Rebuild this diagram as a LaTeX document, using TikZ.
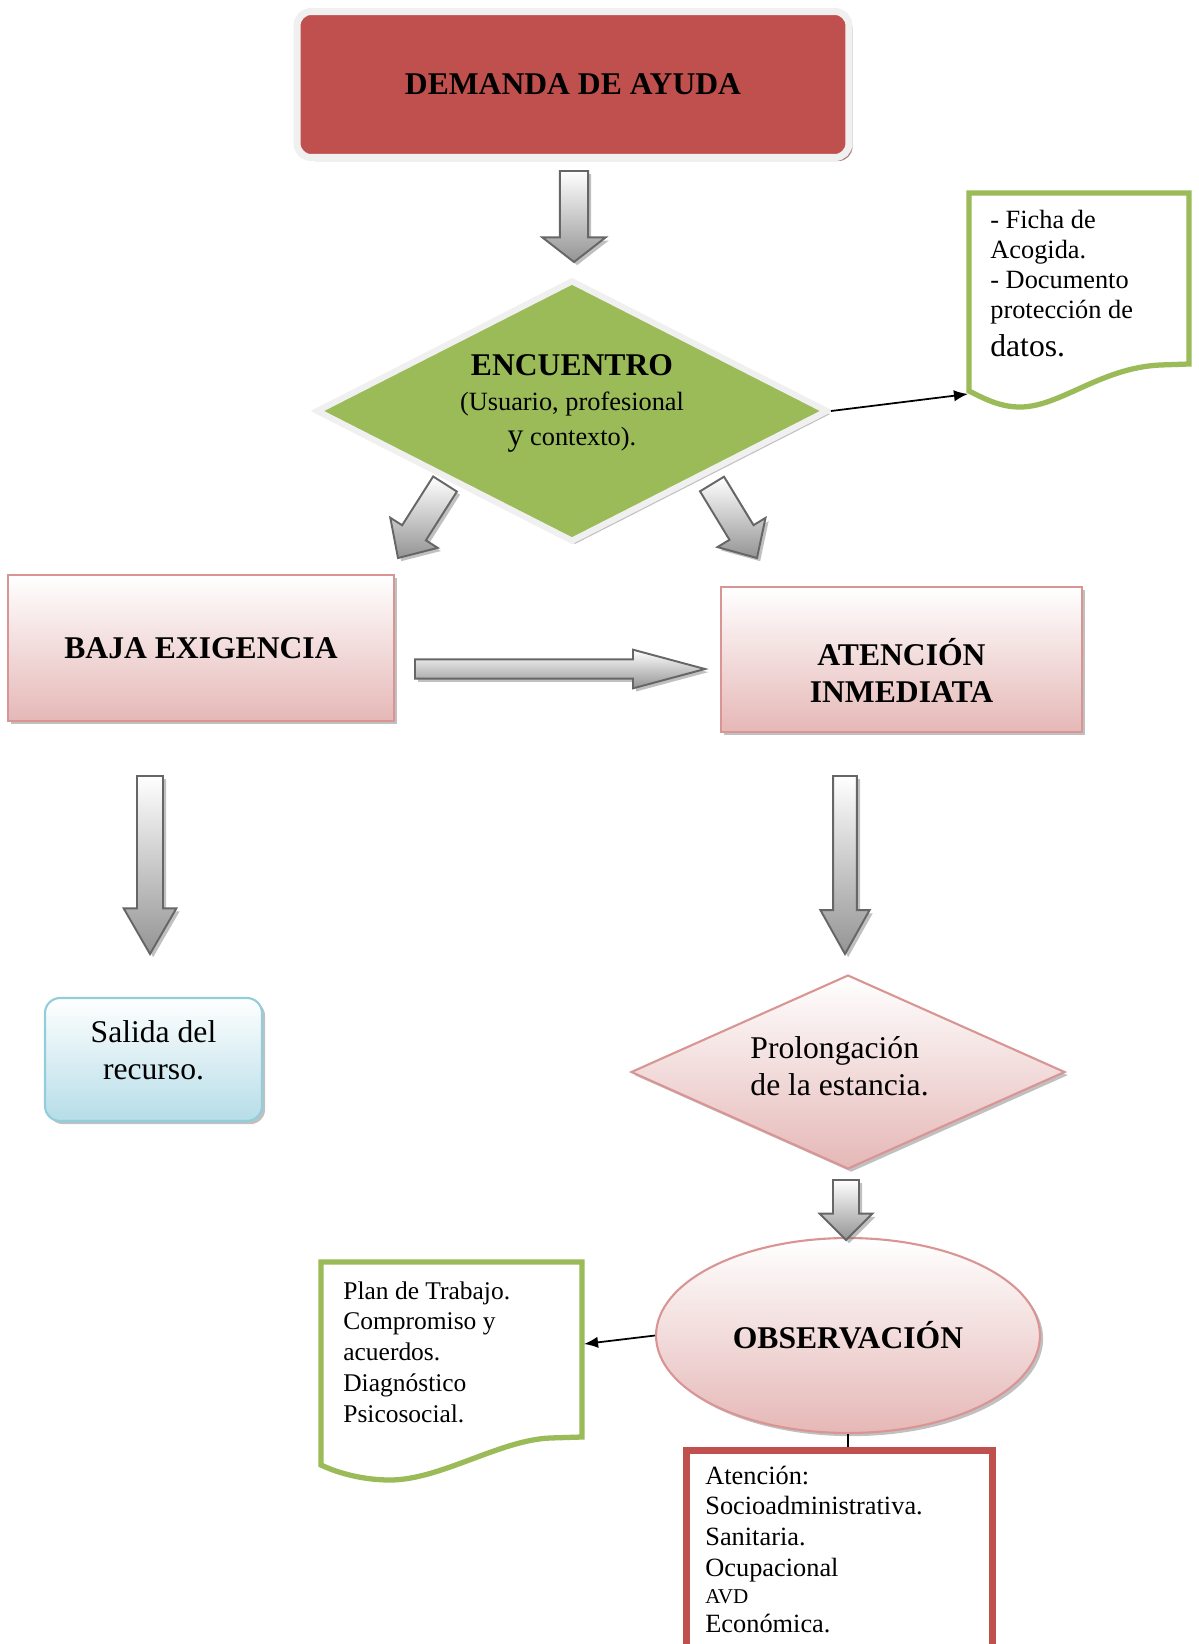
\documentclass[tikz,border=0pt]{standalone}
\usepackage{fontspec}
\setmainfont{Liberation Serif}
\usetikzlibrary{shapes.geometric,shadows,calc,positioning,arrows.meta}

\definecolor{rojo}{HTML}{C0504D}
\definecolor{verde}{HTML}{9BBB59}
\definecolor{rosa}{HTML}{E5B8B7}
\definecolor{rosaborde}{HTML}{D99594}
\definecolor{azul}{HTML}{B6DDE8}
\definecolor{azulborde}{HTML}{92CDDC}
\definecolor{blanco}{HTML}{F0F0F0}

% flecha gruesa: desde, hasta, medio ancho, medio ancho punta, largo punta
\newcommand{\flecha}[5]{%
  \coordinate (fb) at ($(#2)!#5!(#1)$);
  \path[flechagris] ($(#1)!#3!90:(#2)$) -- ($(fb)!#3!90:(#2)$) -- ($(fb)!#4!90:(#2)$) -- (#2)
    -- ($(fb)!#4!-90:(#2)$) -- ($(fb)!#3!-90:(#2)$) -- ($(#1)!#3!-90:(#2)$) -- cycle;}
% varias lineas subidas o bajadas dentro del nodo
\newcommand{\lineas}[3]{\raisebox{#1}[0pt][0pt]{\begin{tabular}{@{}#2@{}}#3\end{tabular}}}

\begin{document}
\begin{tikzpicture}[x=0.02cm, y=-0.02cm, >={Latex[length=8pt,width=6.5pt]},
    sombra/.style={drop shadow={shadow xshift=1.8pt, shadow yshift=-1.8pt, fill=black!55, opacity=.45}},
    caja/.style={rectangle, draw=rosaborde, line width=1pt, top color=white, bottom color=rosa,
      font=\fontsize{18}{21.5}\selectfont\bfseries, sombra},
    flechagris/.style={draw=black!60, line width=1.1pt, top color=white, bottom color=black!42, sombra},
    doc/.style={draw=verde, line width=3pt, fill=white},
    texto/.style={align=left, inner sep=0pt, font=\fontsize{14.5}{17.5}\selectfont}]
  \useasboundingbox (0,0) rectangle (1199,1644);
  \clip (0,0) rectangle (1199,1644);

  \node (demanda) at (573,84.5) [rectangle, rounded corners=0.28cm, draw=blanco, line width=4pt, fill=rojo,
    minimum width=11.04cm, minimum height=2.92cm, font=\fontsize{18}{21.5}\selectfont\bfseries,
    drop shadow={shadow xshift=2pt, shadow yshift=-2pt, fill=rojo!60!black, opacity=.6}] {DEMANDA DE AYUDA};
  \node (encuentro) at (572,411) [diamond, draw=blanco, line width=3.5pt, fill=verde, inner sep=0pt,
    minimum width=10.24cm, minimum height=5.24cm, font=\fontsize{15}{20}\selectfont, sombra]
    {\lineas{0.6pt}{c}{{\fontsize{18}{20}\selectfont\bfseries ENCUENTRO}\\(Usuario, profesional\\
     {\fontsize{18}{20}\selectfont y} contexto).}};
  \node (baja) at (201,648) [caja, minimum width=7.72cm, minimum height=2.92cm] {BAJA EXIGENCIA};
  \node (atencion) at (901.5,659.5) [caja, minimum width=7.22cm, minimum height=2.9cm]
    {\lineas{-13.7pt}{c}{ATENCIÓN\\INMEDIATA}};
  \node (salida) at (153.5,1059.5) [rectangle, rounded corners=0.3cm, draw=azulborde, line width=1.2pt,
    top color=white, bottom color=azul, minimum width=4.34cm, minimum height=2.46cm,
    font=\fontsize{18}{21.5}\selectfont, sombra] {\lineas{-0.9pt}{c}{Salida del\\recurso.}};
  \node (prolonga) at (848,1072) [diamond, draw=rosaborde, line width=1.2pt, top color=white, bottom color=rosa,
    minimum width=8.68cm, minimum height=3.88cm, inner sep=0pt,
    font=\fontsize{18}{21.5}\selectfont, sombra] {\hspace*{-9.6pt}\lineas{-2.8pt}{l}{Prolongación\\de la estancia.}};
  \node (observa) at (848,1335.5) [ellipse, draw=rosaborde, line width=1.2pt, top color=white, bottom color=rosa,
    minimum width=7.68cm, minimum height=3.9cm, font=\fontsize{18}{21.5}\selectfont\bfseries, sombra] {OBSERVACIÓN};
  \node (cuidado) at (839.5,1575) [rectangle, draw=rojo, line width=4pt, fill=white,
    minimum width=6.12cm, minimum height=5cm] {};
  \node (cuidadotxt) [below right=0.38cm and 0.44cm of cuidado.north west, texto, font=\fontsize{15}{17.5}\selectfont]
    {Atención:\\Socioadministrativa.\\Sanitaria.\\Ocupacional\\[-2.2pt]{\fontsize{12}{15.5}\selectfont AVD}\\[-1pt]Económica.};

  % documentos
  \draw[doc] (969,193) -- (1189,193) -- (1189,364) -- (1160,365) .. controls (1100,368) and (1060,407) .. (1020,407)
    .. controls (1000,407) and (985,399) .. (969,391) -- cycle;
  \node (ficha) at (990,210) [anchor=north west, texto, font=\fontsize{15}{17}\selectfont]
    {- Ficha de\\Acogida.\\- Documento\\protección de\\[4.5pt]{\fontsize{18}{20}\selectfont datos.}};
  \draw[doc] (321,1262) -- (582,1262) -- (582,1437) -- (550,1438) .. controls (500,1440) and (440,1480) .. (390,1480)
    .. controls (365,1480) and (340,1474) .. (321,1465) -- cycle;
  \node (plan) at (343,1281) [anchor=north west, texto]
    {Plan de Trabajo.\\Compromiso y\\acuerdos.\\Diagnóstico\\Psicosocial.};

  \coordinate (fichain) at (968,394);
  \coordinate (planin) at (584,1344);
  \draw[->, line width=1pt] (encuentro.east) -- (fichain);
  \draw[->, line width=1pt] (observa.west) -- (planin);
  \draw[line width=1pt] (observa.south) -- (observa.south |- cuidado.north);

  % flechas grises
  \coordinate (f1a) at (574,171); \coordinate (f1b) at (574,262);
  \coordinate (f2a) at (445,484); \coordinate (f2b) at (398,558);
  \coordinate (f3a) at (712,484); \coordinate (f3b) at (757,558);
  \coordinate (f4a) at (415,669); \coordinate (f4b) at (705,669);
  \coordinate (f5a) at (150,776); \coordinate (f5b) at (150,954);
  \coordinate (f6a) at (845,776); \coordinate (f6b) at (845,954);
  \coordinate (f7a) at (846,1180); \coordinate (f7b) at (846,1240);
  \flecha{f1a}{f1b}{8pt}{18pt}{14pt}
  \flecha{f2a}{f2b}{8pt}{16pt}{17pt}
  \flecha{f3a}{f3b}{8pt}{16pt}{17pt}
  \flecha{f4a}{f4b}{5.5pt}{11pt}{41pt}
  \flecha{f5a}{f5b}{7.4pt}{15pt}{26pt}
  \flecha{f6a}{f6b}{6.8pt}{14pt}{25pt}
  \flecha{f7a}{f7b}{7.4pt}{15pt}{15pt}
\end{tikzpicture}
\end{document}
